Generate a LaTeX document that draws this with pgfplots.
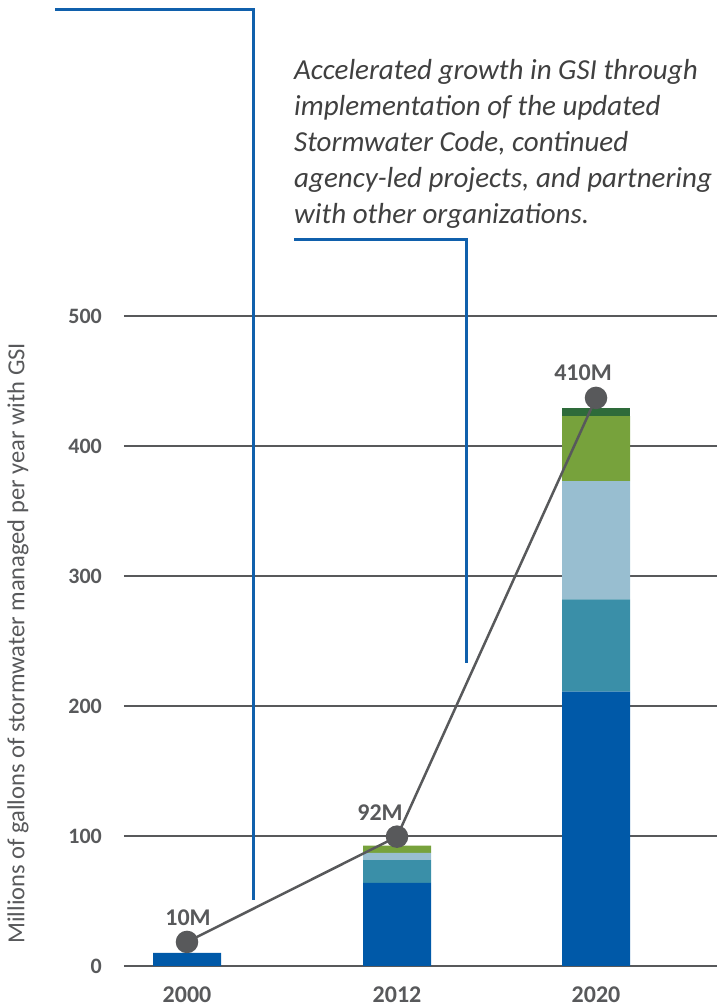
\documentclass[border=0pt]{standalone}
\usepackage{pgfplots}
\pgfplotsset{compat=1.18}
\usepackage{fontspec}
\setmainfont{Carlito}
\definecolor{dblue}{RGB}{0,89,168}
\definecolor{teal2}{RGB}{58,143,168}
\definecolor{lblue}{RGB}{152,190,208}
\definecolor{green2}{RGB}{119,162,60}
\definecolor{dgreen}{RGB}{46,107,58}
\definecolor{gray2}{RGB}{88,89,91}
\definecolor{txt}{RGB}{64,64,64}
\definecolor{ann}{RGB}{16,96,172}
\begin{document}
\begin{tikzpicture}[x=1pt,y=1pt]
\path[use as bounding box] (0,0) rectangle (717,1007);
\begin{axis}[
  at={(124pt,41pt)}, anchor=south west,
  scale only axis, width=593pt, height=966pt,
  xmin=124, xmax=717, ymin=0, ymax=743.08,
  clip=false,
  axis line style={draw=none},
  major tick length=0pt,
  ymajorgrids, grid style={draw=gray2, line width=2.5pt},
  ytick={0,100,200,300,400,500},
  yticklabels={0,100,200,300,400,500},
  xtick={187,397,596},
  xticklabels={2000,2012,2020},
  yticklabel style={font=\bfseries\fontsize{22}{22}\selectfont, text=gray2, anchor=east, inner sep=0pt, xshift=-22pt},
  xticklabel style={font=\bfseries\fontsize{24}{24}\selectfont, text=gray2, anchor=north, inner sep=0pt, yshift=-21pt},
  ylabel={Millions of gallons of stormwater managed per year with GSI},
  ylabel style={at={(rel axis cs:-0.1788,0.334)}, anchor=center, font=\fontsize{24.5}{24.5}\selectfont, text=gray2},
  ybar stacked, bar width=68pt,
  /pgf/number format/assume math mode=true,
]
\addplot[fill=dblue, draw=none] coordinates {(187,10) (397,64) (596,211)};
\addplot[fill=teal2, draw=none] coordinates {(187,0) (397,17.5) (596,71)};
\addplot[fill=lblue, draw=none] coordinates {(187,0) (397,5.5) (596,91)};
\addplot[fill=green2, draw=none] coordinates {(187,0) (397,5.5) (596,50)};
\addplot[fill=dgreen, draw=none] coordinates {(187,0) (397,0) (596,6)};
\end{axis}
\begin{axis}[
  at={(124pt,41pt)}, anchor=south west,
  scale only axis, width=593pt, height=966pt,
  xmin=124, xmax=717, ymin=0, ymax=743.08,
  clip=false, hide axis,
]
\addplot[gray2, line width=2.5pt, mark=*, mark size=10pt, mark options={fill=gray2, draw=none}] coordinates {(187,18.5) (397,99.5) (596,437)};
\node[font=\bfseries\fontsize{24}{24}\selectfont, text=gray2] at (axis cs:188,36.9) {10M};
\node[font=\bfseries\fontsize{24}{24}\selectfont, text=gray2] at (axis cs:380,117.7) {92M};
\node[font=\bfseries\fontsize{24}{24}\selectfont, text=gray2] at (axis cs:583,456.2) {410M};
\end{axis}
\draw[ann, line width=3pt] (55,997) -- (253,997) -- (253,107);
\draw[ann, line width=3pt] (294,767) -- (466.7,767) -- (466.7,344);
\node[anchor=base west, align=left, font=\itshape\fontsize{29}{36}\selectfont, text=txt, inner sep=0pt] at (294,783) {Accelerated growth in GSI through\\implementation of the updated\\Stormwater Code, continued\\agency-led projects, and partnering\\with other organizations.};
\end{tikzpicture}
\end{document}
